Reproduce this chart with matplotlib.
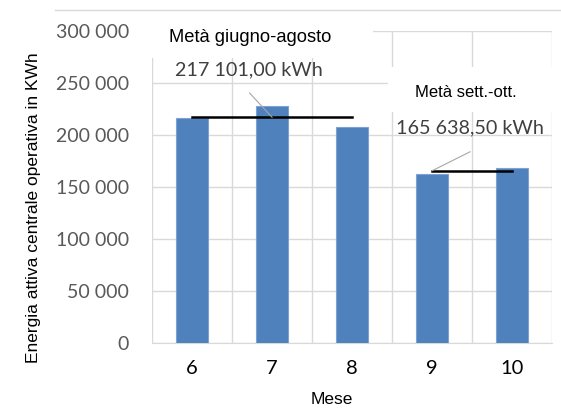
import numpy as np
import matplotlib
matplotlib.use("Agg")
import matplotlib.pyplot as plt
from matplotlib.patches import Rectangle
from matplotlib.lines import Line2D
from matplotlib.ticker import FuncFormatter

plt.rcParams['font.family'] = ['Liberation Sans', 'DejaVu Sans']

# dati
mesi = [6, 7, 8, 9, 10]
energia = [216500, 227500, 207303, 163000, 168277]
media_estate = 217101.00
media_autunno = 165638.50
mesi_estate = [6, 8]
mesi_autunno = [9, 10]
yticks = [0, 50000, 100000, 150000, 200000, 250000, 300000]


def fmt_it(v, dec=0):
    s = f"{v:,.{dec}f}"
    return s.replace(',', ' ').replace('.', ',')


fig = plt.figure(figsize=(5.61, 4.08), dpi=100)
ax = fig.add_axes([0.271, 0.159, 0.713, 0.765])

grid_c = '#d9d9d9'
ax.bar(mesi, energia, width=0.4, color='#4f81bd', edgecolor='#7ea3d3',
       linewidth=0.8, zorder=3)

# linee delle medie
ax.plot(mesi_estate, [media_estate] * 2, color='black', lw=1.8, zorder=4)
ax.plot(mesi_autunno, [media_autunno] * 2, color='black', lw=1.8, zorder=4)

ax.set_xlim(5.5, 10.5)
ax.set_ylim(0, 300000)
ax.set_xticks(mesi)
ax.set_xticks(np.arange(5.5, 10.6, 1), minor=True)
ax.set_yticks(yticks)
ax.yaxis.set_major_formatter(FuncFormatter(lambda v, p: fmt_it(v)))

ax.grid(axis='y', which='major', color=grid_c, lw=1, zorder=0)
ax.grid(axis='x', which='minor', color=grid_c, lw=1, zorder=0)
ax.set_axisbelow(True)
for s in ['top', 'right', 'left']:
    ax.spines[s].set_visible(False)
ax.spines['bottom'].set_color(grid_c)
ax.tick_params(axis='both', which='both', length=0)
ax.tick_params(axis='x', labelsize=14.5, pad=12)
ax.tick_params(axis='y', labelsize=14, labelcolor='#595959', pad=16.5)
for t in ax.get_xticklabels():
    t.set_family(['Lato', 'DejaVu Sans'])
for t in ax.get_yticklabels():
    t.set_family(['Lato', 'DejaVu Sans'])

ax.set_ylabel('Energia attiva centrale operativa in KWh', fontsize=12.5, va='center')
ax.yaxis.set_label_coords(-0.2975, 0.434)
ax.set_xlabel('Mese', fontsize=12.5, va='bottom')
ax.xaxis.set_label_coords(0.45, -0.205)

# riquadri bianchi delle etichette
ax.add_patch(Rectangle((5.45, 274000), 2.81, 30000, facecolor='white',
                       edgecolor='none', zorder=5, clip_on=False))
ax.add_patch(Rectangle((8.45, 222500), 2.1, 42500, facecolor='white',
                       edgecolor='none', zorder=5, clip_on=False))

ax.text(6.725, 293300, 'Metà giugno-agosto', ha='center', va='center',
        fontsize=13.2, zorder=6)
ax.text(9.42, 240800, 'Metà sett.-ott.', ha='center', va='center',
        fontsize=12, zorder=6)

ax.text(6.71, 262500, fmt_it(media_estate, 2) + ' kWh', ha='center', va='center',
        fontsize=14.2, color='#404040', family=['Lato', 'DejaVu Sans'], zorder=6)
ax.plot([6.72, 7], [240400, media_estate], color='#a6a6a6', lw=0.8, zorder=5)

ax.text(9.475, 206700, fmt_it(media_autunno, 2) + ' kWh', ha='center', va='center',
        fontsize=14.2, color='#404040', family=['Lato', 'DejaVu Sans'], zorder=6)
ax.plot([9.475, 9], [183900, media_autunno], color='#a6a6a6', lw=0.8, zorder=5)

# bordo del grafico
fig.add_artist(Line2D([55 / 561, 1], [1 - 10 / 408] * 2, color=grid_c, lw=1))

fig.savefig('out.png', dpi=100)
